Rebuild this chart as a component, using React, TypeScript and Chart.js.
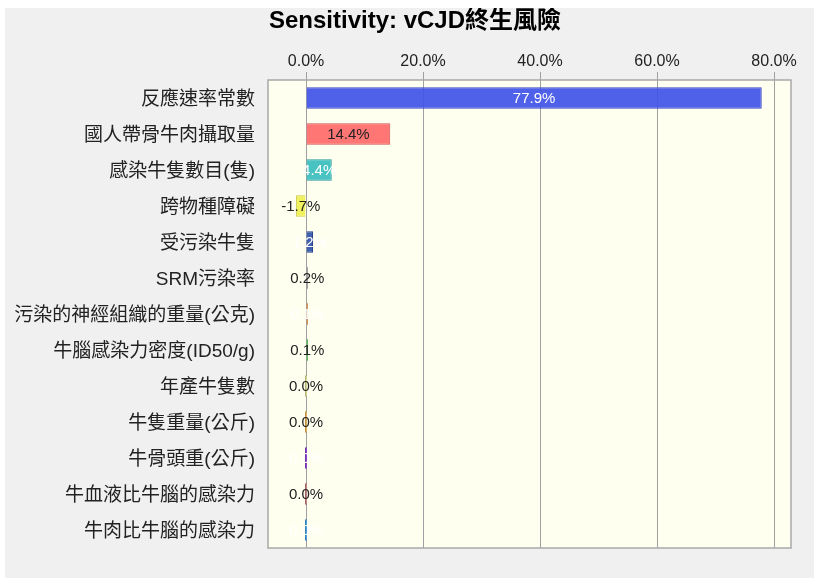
import React, { useEffect, useRef } from "react";
import { Chart, registerables } from "chart.js";

Chart.register(...registerables);

const titleText = "Sensitivity: vCJD終生風險";
const categories = [
  "反應速率常數",
  "國人帶骨牛肉攝取量",
  "感染牛隻數目(隻)",
  "跨物種障礙",
  "受污染牛隻",
  "SRM污染率",
  "污染的神經組織的重量(公克)",
  "牛腦感染力密度(ID50/g)",
  "年產牛隻數",
  "牛隻重量(公斤)",
  "牛骨頭重(公斤)",
  "牛血液比牛腦的感染力",
  "牛肉比牛腦的感染力",
];
const values = [77.9, 14.4, 4.4, -1.7, 1.2, 0.2, 0.1, 0.1, 0.0, 0.0, 0.0, 0.0, 0.0];
const barColors = [
  "rgba(64,82,232,0.92)",
  "rgba(255,106,106,0.92)",
  "rgba(56,190,190,0.92)",
  "rgba(240,240,80,0.92)",
  "rgba(48,84,168,0.92)",
  "rgba(150,150,150,0.92)",
  "rgba(232,140,56,0.92)",
  "rgba(64,190,64,0.92)",
  "rgba(220,220,150,0.92)",
  "rgba(225,175,90,0.92)",
  "rgba(140,60,210,0.92)",
  "rgba(190,130,130,0.92)",
  "rgba(64,160,224,0.92)",
];
const borderColors = [
  "#3a48c8", "#d05050", "#2a9a9a", "#c8c840", "#203c88", "#808080",
  "#c07028", "#30a030", "#b0b070", "#c09040", "#7030b0", "#a06060", "#3080c0",
];
const labelColors = [
  "#ffffff", "#222222", "#ffffff", "#222222", "#ffffff", "#222222",
  "#ffffff", "#222222", "#222222", "#222222", "#ffffff", "#222222", "#ffffff",
];
const xTicks = [0, 20, 40, 60, 80];
const xMin = -6.5;
const xMax = 82.9;

const FONT = "'Liberation Sans', 'Noto Sans CJK TC', sans-serif";

const areaPlugin = {
  id: "areaPlugin",
  beforeDraw(chart: any) {
    const { ctx, chartArea: a } = chart;
    ctx.save();
    ctx.fillStyle = "#fffff0";
    ctx.fillRect(a.left, a.top, a.right - a.left, a.bottom - a.top);
    ctx.restore();
  },
  afterDatasetsDraw(chart: any) {
    const { ctx } = chart;
    const meta = chart.getDatasetMeta(0);
    ctx.save();
    ctx.font = "15px " + FONT;
    ctx.textAlign = "center";
    ctx.textBaseline = "middle";
    meta.data.forEach((el: any, i: number) => {
      const cx = (el.x + el.base) / 2;
      ctx.fillStyle = labelColors[i];
      ctx.fillText(values[i].toFixed(1) + "%", cx, el.y + 1);
    });
    ctx.restore();
  },
  afterDraw(chart: any) {
    const { ctx, chartArea: a } = chart;
    ctx.save();
    ctx.strokeStyle = "#a8a8a8";
    ctx.lineWidth = 1.5;
    ctx.strokeRect(a.left, a.top, a.right - a.left, a.bottom - a.top);
    ctx.fillStyle = "#000";
    ctx.font = "bold 24px " + FONT;
    ctx.textAlign = "center";
    ctx.textBaseline = "middle";
    ctx.fillText(titleText, 410, 13);
    ctx.restore();
  },
};

export default function App() {
  const ref = useRef<HTMLCanvasElement | null>(null);
  useEffect(() => {
    if (!ref.current) return;
    const chart = new Chart(ref.current, {
      type: "bar",
      data: {
        labels: categories,
        datasets: [
          {
            data: values,
            backgroundColor: barColors,
            borderColor: borderColors,
            borderWidth: 1,
            barPercentage: 0.6,
            categoryPercentage: 1,
            minBarLength: 2,
          },
        ],
      },
      options: {
        indexAxis: "y",
        animation: false,
        responsive: false,
        devicePixelRatio: 1,
        layout: { padding: { left: 0, right: 23, top: 29, bottom: 30 } },
        plugins: {
          legend: { display: false },
          tooltip: { enabled: false },
          title: { display: false },
        },
        scales: {
          x: {
            type: "linear",
            position: "top",
            min: xMin,
            max: xMax,
            afterBuildTicks(scale: any) {
              scale.ticks = xTicks.map((v) => ({ value: v }));
            },
            afterFit(scale: any) {
              scale.height = 43;
            },
            ticks: {
              color: "#222",
              font: { family: FONT, size: 16 },
              padding: 1,
              callback: (v: any) => Number(v).toFixed(1) + "%",
            },
            grid: { color: "#a0a0a0", lineWidth: 1, tickLength: 8 },
            border: { display: false },
          },
          y: {
            afterFit(scale: any) {
              scale.width = 263;
            },
            ticks: {
              color: "#222",
              font: { family: FONT, size: 19 },
              padding: 13,
              labelOffset: 2,
              autoSkip: false,
            },
            grid: { display: false, drawTicks: false },
            border: { display: false },
          },
        },
      },
      plugins: [areaPlugin],
    } as any);
    return () => chart.destroy();
  }, []);
  return (
    <div style={{ position: "fixed", left: 0, top: 0, width: 814, height: 578, background: "#fff" }}>
      <div style={{ position: "absolute", left: 5, top: 8, width: 809, height: 570, background: "#f0f0f0" }}>
        <canvas ref={ref} width={809} height={570} style={{ display: "block" }} />
      </div>
    </div>
  );
}
